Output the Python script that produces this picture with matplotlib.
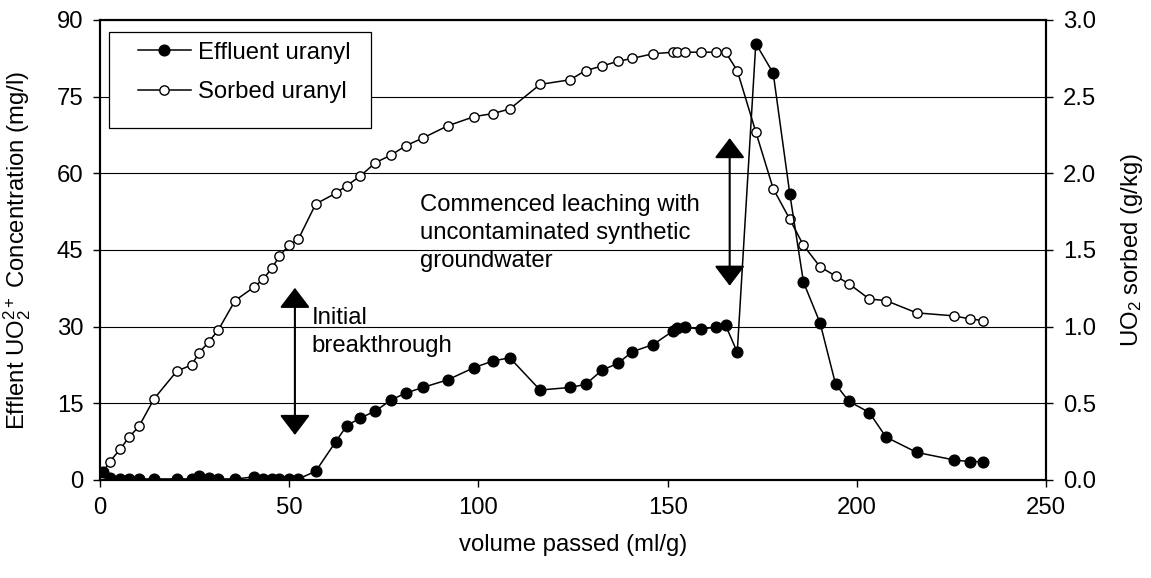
import matplotlib
matplotlib.use('Agg')
import matplotlib.pyplot as plt
from matplotlib.patches import Rectangle, ArrowStyle

plt.rcParams['font.family'] = ['Liberation Sans', 'DejaVu Sans']
plt.rcParams['mathtext.fontset'] = 'custom'
plt.rcParams['mathtext.rm'] = 'Liberation Sans'
plt.rcParams['mathtext.it'] = 'Liberation Sans:italic'
plt.rcParams['mathtext.bf'] = 'Liberation Sans:bold'
FS = 17.2

# volume passed (ml/g), shared by both series
volume = [0.7, 2.6, 5.3, 7.7, 10.3, 14.3, 20.3, 24.2, 26.2, 28.7,
          31.3, 35.7, 40.8, 43.1, 45.4, 47.4, 49.9, 52.4, 57.0, 62.3,
          65.2, 68.7, 72.8, 77.0, 80.8, 85.3, 91.9, 98.9, 103.9, 108.3,
          116.3, 124.2, 128.3, 132.7, 136.8, 140.7, 146.2, 151.5, 152.5, 154.6,
          158.7, 162.7, 165.3, 168.4, 173.3, 177.9, 182.3, 185.9, 190.3, 194.4,
          197.9, 203.3, 207.7, 215.8, 225.8, 229.9, 233.4]
# effluent UO2 2+ concentration (mg/l)
effluent = [1.5, 0.3, 0.2, 0.2, 0.2, 0.2, 0.2, 0.2, 0.7, 0.3,
            0.2, 0.2, 0.6, 0.2, 0.2, 0.2, 0.2, 0.2, 1.7, 7.5,
            10.6, 12.1, 13.5, 15.7, 17.0, 18.1, 19.6, 22.0, 23.3, 23.9,
            17.6, 18.1, 18.7, 21.5, 22.8, 25.1, 26.5, 29.2, 29.7, 29.9,
            29.5, 29.9, 30.3, 25.0, 85.4, 79.6, 55.9, 38.7, 30.7, 18.7,
            15.4, 13.2, 8.4, 5.4, 3.9, 3.6, 3.6]
# UO2 sorbed (g/kg)
sorbed = [0.05, 0.12, 0.20, 0.28, 0.35, 0.53, 0.71, 0.75, 0.83, 0.90,
          0.98, 1.17, 1.26, 1.31, 1.38, 1.46, 1.53, 1.57, 1.80, 1.87,
          1.92, 1.98, 2.07, 2.12, 2.18, 2.23, 2.31, 2.37, 2.39, 2.42,
          2.58, 2.61, 2.67, 2.70, 2.73, 2.75, 2.78, 2.79, 2.79, 2.79,
          2.79, 2.79, 2.79, 2.67, 2.27, 1.90, 1.70, 1.53, 1.39, 1.33,
          1.28, 1.18, 1.17, 1.09, 1.07, 1.05, 1.04]

# annotations: (x, y bottom, y top) in left-axis units
arrows = [(51.5, 8.8, 37.6), (166.4, 38.0, 66.9)]
# text anchored at the baseline of its last line
notes = [(55.9, 25.1, 'Initial\nbreakthrough'),
         (84.5, 41.7, 'Commenced leaching with\nuncontaminated synthetic\ngroundwater')]

fig = plt.figure(figsize=(11.51, 5.78), dpi=100)
ax = fig.add_axes([0.0869, 0.1696, 0.8219, 0.7958])
ax2 = ax.twinx()
ax.set_zorder(ax2.get_zorder() + 1)
ax.patch.set_visible(False)

l2, = ax2.plot(volume, sorbed, '-o', color='black', lw=1.1, ms=6.7,
               mfc='white', mec='black', mew=1.0)
l1, = ax.plot(volume, effluent, '-o', color='black', lw=1.1, ms=7.7,
              mfc='black', mec='black')

ax.set_xlim(0, 250)
ax.set_ylim(0, 90)
ax2.set_ylim(0, 3.0)
ax.set_xticks(range(0, 251, 50))
ax.set_yticks(range(0, 91, 15))
ax2.set_yticks([i * 0.5 for i in range(7)])
ax2.set_yticklabels(['%.1f' % (i * 0.5) for i in range(7)])

ax2.yaxis.grid(True, color='black', lw=0.8)
ax2.set_axisbelow(True)

for a in (ax, ax2):
    a.tick_params(labelsize=FS, direction='out', length=5, width=1, pad=7)
    for s in a.spines.values():
        s.set_linewidth(1.5)

ax.set_xlabel('volume passed (ml/g)', fontsize=FS, labelpad=11)
ax.set_ylabel('Efflent UO$_2^{2+}$ Concentration (mg/l)', fontsize=FS)
ax.yaxis.set_label_coords(-0.071, 0.5)
ax2.set_ylabel('UO$_2$ sorbed (g/kg)', fontsize=FS, rotation=90)
ax2.yaxis.set_label_coords(1.077, 0.5)

head = ArrowStyle('<|-|>', head_length=12.5, head_width=9.5)
for xa, y0, y1 in arrows:
    ax.annotate('', xy=(xa, y1), xytext=(xa, y0),
                arrowprops=dict(arrowstyle=head, mutation_scale=1,
                                color='black', lw=1.5,
                                shrinkA=0, shrinkB=0))
for xt, yt, txt in notes:
    ax.text(xt, yt, txt, fontsize=FS, va='baseline', ha='left',
            linespacing=1.35)

ax.add_patch(Rectangle((0.0095, 0.766), 0.277, 0.2087,
                       transform=ax.transAxes, fc='white', ec='black',
                       lw=0.9, zorder=4))
ax.legend([l1, l2], ['Effluent uranyl', 'Sorbed uranyl'],
          loc='upper left', bbox_to_anchor=(0.0301, 0.974),
          frameon=False, fontsize=FS, handlelength=2.2,
          handletextpad=0.3, labelspacing=0.75, borderpad=0.4,
          borderaxespad=0)

fig.savefig('out.png', dpi=100)
